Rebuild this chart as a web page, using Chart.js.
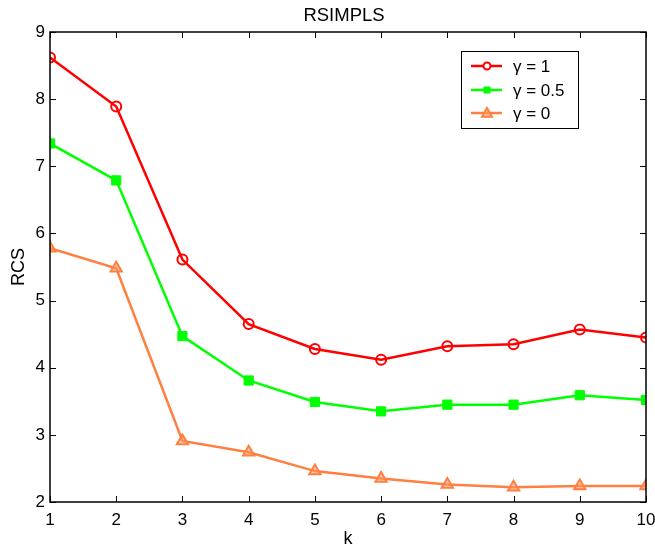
<!DOCTYPE html>
<html>
<head>
<meta charset="utf-8">
<script src="https://cdn.jsdelivr.net/npm/chart.js@4.4.0/dist/chart.umd.min.js"></script>
<style>
html,body{margin:0;padding:0;background:#fff;}
#wrap{width:655px;height:551px;}
</style>
</head>
<body>
<div id="wrap"><canvas id="c" width="655" height="551"></canvas></div>
<script>
const kValues = [1,2,3,4,5,6,7,8,9,10];
const gamma1 = [8.62,7.89,5.61,4.65,4.28,4.12,4.32,4.35,4.57,4.45];
const gamma05 = [7.34,6.79,4.47,3.81,3.49,3.35,3.45,3.45,3.59,3.52];
const gamma0 = [5.78,5.48,2.91,2.74,2.46,2.35,2.26,2.22,2.24,2.24];
const seriesLabels = ['\u03b3 = 1','\u03b3 = 0.5','\u03b3 = 0'];
const yTicks = [2,3,4,5,6,7,8,9];
const chartTitle = 'RSIMPLS';

const FONT = '"Liberation Sans", Arial, Helvetica, sans-serif';
const toXY = arr => arr.map((v,i)=>({x:kValues[i], y:v}));

const frame = {
  id:'frame',
  afterDraw(chart){
    const {ctx, chartArea:a, scales:{x,y}} = chart;
    ctx.save();
    // title centred over plot area
    ctx.fillStyle='#000';
    ctx.font = '18.5px '+FONT;
    ctx.textAlign='center';
    ctx.textBaseline='middle';
    ctx.fillText(chartTitle, (a.left+a.right)/2 - 4, 16);

    ctx.strokeStyle = '#000';
    ctx.lineWidth = 1;
    ctx.beginPath();
    const tl = 6;
    x.ticks.forEach(t=>{
      const px = Math.round(x.getPixelForValue(t.value))+0.5;
      ctx.moveTo(px,a.bottom); ctx.lineTo(px,a.bottom-tl);
      ctx.moveTo(px,a.top); ctx.lineTo(px,a.top+tl);
    });
    y.ticks.forEach(t=>{
      const py = Math.round(y.getPixelForValue(t.value))+0.5;
      ctx.moveTo(a.left,py); ctx.lineTo(a.left+tl,py);
      ctx.moveTo(a.right,py); ctx.lineTo(a.right-tl,py);
    });
    ctx.stroke();
    ctx.lineWidth = 1.5;
    ctx.strokeRect(a.left, a.top, a.right-a.left, a.bottom-a.top);
    // legend box
    const bx=461, by=51, bw=117, bh=77;
    ctx.fillStyle='#fff';
    ctx.fillRect(bx,by,bw,bh);
    ctx.lineWidth=1;
    ctx.strokeRect(bx+0.5,by+0.5,bw,bh);
    const rows=[66,90,113];
    chart.data.datasets.forEach((ds,i)=>{
      const ry = rows[i];
      ctx.strokeStyle = ds.borderColor;
      ctx.lineWidth = ds.borderWidth;
      ctx.beginPath(); ctx.moveTo(471,ry); ctx.lineTo(502,ry); ctx.stroke();
      ctx.fillStyle = ds.pointBackgroundColor;
      ctx.strokeStyle = ds.pointBorderColor;
      ctx.lineWidth = ds.pointBorderWidth;
      ctx.beginPath();
      if(ds.pointStyle==='circle'){ ctx.fillStyle='#fff'; ctx.arc(487,ry,3.5,0,Math.PI*2); ctx.fill(); ctx.stroke(); }
      else if(ds.pointStyle==='rect'){ ctx.fillRect(487-3.5,ry-3.5,7,7); }
      else { const s=5; ctx.moveTo(487,ry-s); ctx.lineTo(487+s,ry+s*0.75); ctx.lineTo(487-s,ry+s*0.75); ctx.closePath(); ctx.fill(); ctx.stroke(); }
      ctx.fillStyle='#000';
      ctx.font = '17px '+FONT;
      ctx.textBaseline='middle';
      ctx.textAlign='left';
      ctx.fillText(ds.label, 513, ry+1);
    });
    ctx.restore();
  }
};

new Chart(document.getElementById('c'), {
  type:'line',
  data:{
    datasets:[
      {label:seriesLabels[0], data:toXY(gamma1), borderColor:'#ff0000', borderWidth:2.5,
       pointStyle:'circle', pointRadius:5, pointBorderWidth:2, pointBackgroundColor:'rgba(255,255,255,0)', pointBorderColor:'#ff0000'},
      {label:seriesLabels[1], data:toXY(gamma05), borderColor:'#00ff00', borderWidth:2.5,
       pointStyle:'rect', pointRadius:6.5, pointBorderWidth:1, pointBackgroundColor:'#00ff00', pointBorderColor:'#00ff00'},
      {label:seriesLabels[2], data:toXY(gamma0), borderColor:'#ff7f40', borderWidth:2.5,
       pointStyle:'triangle', pointRadius:6.5, pointBorderWidth:2, pointBackgroundColor:'rgba(255,150,100,0.5)', pointBorderColor:'#ff7f40'}
    ]
  },
  plugins:[frame],
  options:{
    responsive:false,
    animation:false,
    devicePixelRatio:1,
    layout:{padding:{left:0,right:0,top:32,bottom:0}},
    elements:{line:{tension:0}},
    plugins:{
      legend:{display:false},
      tooltip:{enabled:false},
      title:{display:false}
    },
    scales:{
      x:{type:'linear', min:1, max:10,
         afterFit(s){ s.height=49; s.paddingRight=9; s.paddingLeft=0; },
         afterBuildTicks(s){ s.ticks = kValues.map(v=>({value:v})); },
         ticks:{color:'#000', font:{family:FONT,size:17}, padding:8, maxRotation:0, autoSkip:false, callback:v=>String(v)},
         grid:{display:false, drawTicks:false},
         border:{display:false},
         title:{display:true, text:'k', color:'#000', font:{family:FONT,size:18}, padding:{top:0,bottom:1}}
      },
      y:{type:'linear', min:2, max:9,
         afterFit(s){ s.width=50; },
         afterBuildTicks(s){ s.ticks = yTicks.map(v=>({value:v})); },
         ticks:{color:'#000', font:{family:FONT,size:17}, padding:5, callback:v=>String(v)},
         grid:{display:false, drawTicks:false},
         border:{display:false},
         title:{display:true, text:'RCS', color:'#000', font:{family:FONT,size:18}, padding:{top:8.5,bottom:0}}
      }
    }
  }
});
</script>
</body>
</html>
